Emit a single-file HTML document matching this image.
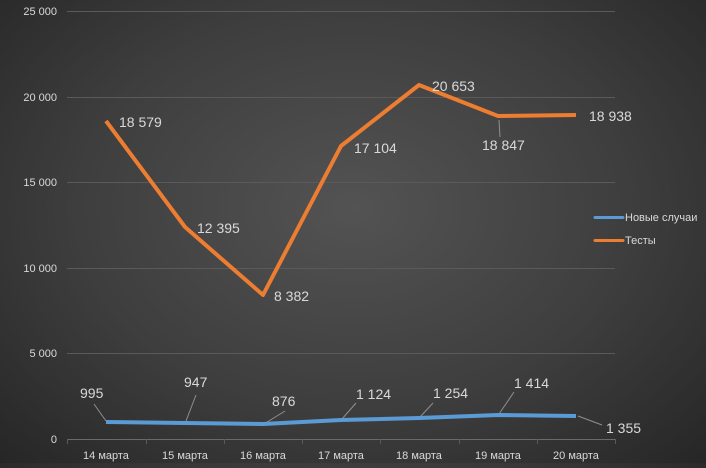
<!DOCTYPE html>
<html><head><meta charset="utf-8"><style>
html,body{margin:0;padding:0}
body{width:706px;height:463px;overflow:hidden;background:radial-gradient(ellipse at 50% 45%,#535353 0%,#3e3e3e 55%,#262626 100%);font-family:"Liberation Sans",sans-serif}
</style></head><body>
<svg width="706" height="463" xmlns="http://www.w3.org/2000/svg" font-family="Liberation Sans, sans-serif">
<g stroke="#5a5a5a" stroke-width="1">
<line x1="67" y1="11.5" x2="615" y2="11.5"/>
<line x1="67" y1="97.5" x2="615" y2="97.5"/>
<line x1="67" y1="182.5" x2="615" y2="182.5"/>
<line x1="67" y1="268.5" x2="615" y2="268.5"/>
<line x1="67" y1="353.5" x2="615" y2="353.5"/>
<line x1="67" y1="439.5" x2="615" y2="439.5" stroke="#6a6a6a"/>
<line x1="67.5" y1="439" x2="67.5" y2="444"/><line x1="146.5" y1="439" x2="146.5" y2="444"/><line x1="224.5" y1="439" x2="224.5" y2="444"/><line x1="302.5" y1="439" x2="302.5" y2="444"/><line x1="380.5" y1="439" x2="380.5" y2="444"/><line x1="459.5" y1="439" x2="459.5" y2="444"/><line x1="537.5" y1="439" x2="537.5" y2="444"/><line x1="615.5" y1="439" x2="615.5" y2="444"/>
</g>
<g fill="#d9d9d9" font-size="11" text-anchor="end">
<text x="57" y="15">25 000</text><text x="57" y="101">20 000</text><text x="57" y="186">15 000</text><text x="57" y="272">10 000</text><text x="57" y="357">5 000</text><text x="57" y="443">0</text>
</g>
<g fill="#d9d9d9" font-size="11" text-anchor="middle">
<text x="106" y="459">14 марта</text><text x="185" y="459">15 марта</text><text x="263" y="459">16 марта</text><text x="341" y="459">17 марта</text><text x="419" y="459">18 марта</text><text x="498" y="459">19 марта</text><text x="576" y="459">20 марта</text>
</g>
<g stroke="#8f8f8f" stroke-width="1" fill="none">
<line x1="94" y1="404" x2="106" y2="421"/>
<line x1="196" y1="395" x2="186" y2="421"/>
<line x1="285" y1="411" x2="264" y2="424"/>
<line x1="356" y1="403" x2="342" y2="419"/>
<line x1="433" y1="403" x2="420" y2="417"/>
<line x1="514" y1="392" x2="499" y2="414"/>
<line x1="602" y1="425" x2="578" y2="416"/>
<line x1="500" y1="137" x2="499" y2="120"/>
</g>
<polyline fill="none" stroke="#5b9bd5" stroke-width="4" stroke-linejoin="round" points="106,422 185,423 263,424 341,420 419,418 498,415 576,416"/>
<polyline fill="none" stroke="#ed7d31" stroke-width="4" stroke-linejoin="round" points="106,121 185,227 263,295 341,146 419,85 498,116 576,115"/>
<g fill="#d9d9d9" font-size="14">
<text x="80" y="398">995</text><text x="184" y="387">947</text><text x="272" y="406">876</text><text x="356" y="399">1 124</text><text x="433" y="398">1 254</text><text x="514" y="388">1 414</text><text x="606" y="433">1 355</text>
<text x="119" y="127">18 579</text><text x="197" y="233">12 395</text><text x="274" y="301">8 382</text><text x="354" y="153">17 104</text><text x="432" y="91">20 653</text><text x="482" y="150">18 847</text><text x="589" y="121">18 938</text>
</g>
<line x1="595" y1="217.5" x2="623" y2="217.5" stroke="#5b9bd5" stroke-width="3" stroke-linecap="round"/>
<line x1="595" y1="240.5" x2="623" y2="240.5" stroke="#ed7d31" stroke-width="3" stroke-linecap="round"/>
<g fill="#d9d9d9" font-size="11"><text x="625" y="221">Новые случаи</text><text x="625" y="244">Тесты</text></g>
</svg>
</body></html>
